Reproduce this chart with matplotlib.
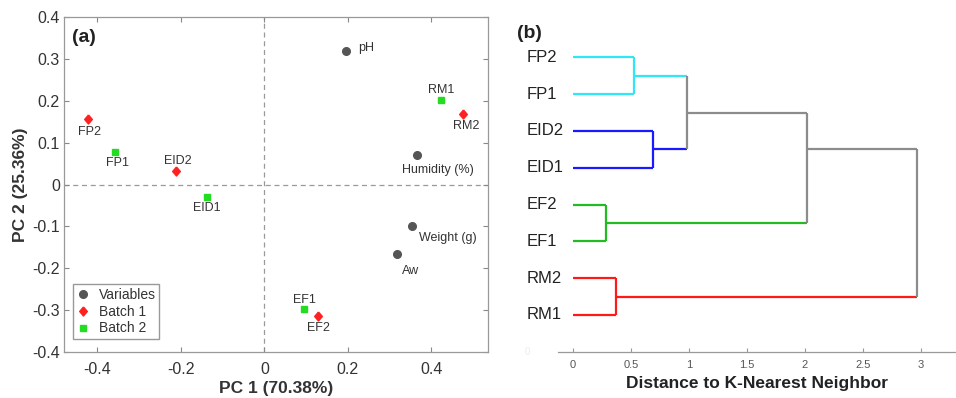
import matplotlib
matplotlib.use("Agg")
import matplotlib.pyplot as plt
import numpy as np

plt.rcParams['font.family'] = ['Liberation Sans', 'DejaVu Sans']

# ---------------- data: PCA biplot ----------------
var_names = ["pH", "Humidity (%)", "Weight (g)", "Aw"]
var_x = [0.195, 0.367, 0.355, 0.318]
var_y = [0.320, 0.070, -0.099, -0.166]

b1_names = ["FP2", "EID2", "RM2", "EF2"]
b1_x = [-0.423, -0.211, 0.477, 0.129]
b1_y = [0.156, 0.033, 0.169, -0.313]

b2_names = ["FP1", "EID1", "RM1", "EF1"]
b2_x = [-0.358, -0.137, 0.423, 0.095]
b2_y = [0.078, -0.029, 0.203, -0.298]

pca_xticks = [-0.4, -0.2, 0, 0.2, 0.4]
pca_yticks = [-0.4, -0.3, -0.2, -0.1, 0, 0.1, 0.2, 0.3, 0.4]

# ---------------- data: dendrogram ----------------
leaf_labels = ["RM1", "RM2", "EF1", "EF2", "EID1", "EID2", "FP1", "FP2"]  # bottom to top
# merges: (child_a, child_b, height); children are leaf names or merge indices
merges = [
    ("FP2", "FP1", 0.53),
    ("EID2", "EID1", 0.693),
    ("EF2", "EF1", 0.286),
    ("RM2", "RM1", 0.37),
    (0, 1, 0.98),
    (4, 2, 2.017),
    (5, 3, 2.963),
]
dend_xticks = [0, 0.5, 1, 1.5, 2, 2.5, 3]

# ---------------- style (label offsets in points) ----------------
offsets = {
    "pH": (9, 2, 'left'), "Humidity (%)": (15, -11, 'center'),
    "Weight (g)": (5, -9, 'left'), "Aw": (10, -12, 'center'),
    "FP2": (1, -9, 'center'), "EID2": (1, 7, 'center'), "RM2": (2, -9, 'center'),
    "EF2": (0, -9, 'center'), "FP1": (2, -8, 'center'), "EID1": (0, -8, 'center'),
    "RM1": (0, 7, 'center'), "EF1": (0, 7, 'center'),
}
merge_colors = ['#2ee8f8', '#1a1aff', '#22bb22', '#ff1a1a', '#8c8c8c', '#8c8c8c', '#8c8c8c']
diamond = [(0, 1), (0.85, 0), (0, -1), (-0.85, 0), (0, 1)]

fig = plt.figure(figsize=(9.56, 3.98), dpi=100)

# ---------------- panel (a) ----------------
ax = fig.add_axes([0.067, 0.1156, 0.443, 0.8416])
ax.axhline(0, color='#999999', ls=(0, (4, 3)), lw=0.9, zorder=1)
ax.axvline(0, color='#999999', ls=(0, (4, 3)), lw=0.9, zorder=1)
ax.plot(var_x, var_y, 'o', color='#555555', ms=5.5, ls='none', label='Variables', zorder=3)
ax.plot(b1_x, b1_y, marker=diamond, color='#ff2020', ms=6.5, ls='none', label='Batch 1', zorder=3)
ax.plot(b2_x, b2_y, 's', color='#22dd22', ms=3.8, ls='none', label='Batch 2', zorder=3)
for names, xs, ys in [(var_names, var_x, var_y), (b1_names, b1_x, b1_y), (b2_names, b2_x, b2_y)]:
    for n, x, y in zip(names, xs, ys):
        dx, dy, ha = offsets[n]
        ax.annotate(n, (x, y), xytext=(dx, dy), textcoords='offset points',
                    ha=ha, va='center', fontsize=9, color='#333333')
ax.set_xlim(-0.48, 0.535)
ax.set_ylim(-0.4, 0.4)
ax.set_xticks(pca_xticks)
ax.set_xticklabels(['-0.4', '-0.2', '0', '0.2', '0.4'])
ax.set_yticks(pca_yticks)
ax.set_yticklabels(['-0.4', '-0.3', '-0.2', '-0.1', '0', '0.1', '0.2', '0.3', '0.4'])
ax.tick_params(direction='in', top=True, right=True, length=3.5, color='#888888',
               labelsize=11.5, labelcolor='#333333')
ax.tick_params(axis='y', pad=3)
ax.tick_params(axis='x', pad=7)
for s in ax.spines.values():
    s.set_color('#999999')
    s.set_linewidth(0.9)
ax.set_xlabel('PC 1 (70.38%)', fontsize=12.5, fontweight='bold', color='#333333', labelpad=3)
ax.set_ylabel('PC 2 (25.36%)', fontsize=12.5, fontweight='bold', color='#333333', labelpad=3)
ax.text(0.019, 0.965, '(a)', transform=ax.transAxes, fontsize=14, fontweight='bold',
        va='top', ha='left', color='#222222')
leg = ax.legend(loc='lower left', bbox_to_anchor=(0.021, 0.039), borderaxespad=0,
                fancybox=False, edgecolor='#999999', fontsize=10, handlelength=1.0,
                handletextpad=0.6, borderpad=0.25, labelspacing=0.2, framealpha=1)
for t in leg.get_texts():
    t.set_color('#333333')

# ---------------- panel (b) ----------------
bx = fig.add_axes([0.584, 0.1163, 0.416, 0.8322])
pos = {n: i + 1 for i, n in enumerate(leaf_labels)}
node_leaves = []
node_pos = []
def child_info(c):
    if isinstance(c, str):
        return [pos[c]], 0.0, pos[c]
    return node_leaves[c], merges[c][2], node_pos[c]

for k, (a, b, h) in enumerate(merges):
    la, ha_, pa = child_info(a)
    lb, hb, pb = child_info(b)
    leaves = la + lb
    node_leaves.append(leaves)
    node_pos.append(float(np.mean(leaves)))
    col = merge_colors[k]
    ca = col if isinstance(a, str) else merge_colors[a]
    cb = col if isinstance(b, str) else merge_colors[b]
    bx.plot([ha_, h], [pa, pa], color=ca, lw=1.6, solid_capstyle='butt', zorder=2)
    bx.plot([hb, h], [pb, pb], color=cb, lw=1.6, solid_capstyle='butt', zorder=2)
    bx.plot([h, h], [pa, pb], color=col, lw=1.6, solid_capstyle='butt', zorder=3)

for n, p in pos.items():
    bx.text(-0.4, p, n, ha='left', va='center', fontsize=12, color='#222222',
            transform=bx.transData, clip_on=False)

bx.set_xlim(-0.125, 3.3)
bx.set_ylim(0, 9)
bx.set_xticks(dend_xticks)
bx.set_xticklabels(['0', '0.5', '1', '1.5', '2', '2.5', '3'])
bx.set_yticks([])
for s in ['top', 'right', 'left']:
    bx.spines[s].set_visible(False)
bx.spines['bottom'].set_color('#999999')
bx.spines['bottom'].set_linewidth(0.9)
bx.tick_params(axis='x', direction='in', length=3, color='#999999', labelsize=8,
               labelcolor='#555555', pad=6)
bx.set_xlabel('Distance to K-Nearest Neighbor', fontsize=12.5, fontweight='bold',
              color='#222222', labelpad=4)
bx.text(-0.39, 0, '0', ha='center', va='center', fontsize=7, color='#eeeedd', clip_on=False)
fig.text(517 / 956, 1 - 34 / 398, '(b)', fontsize=14, fontweight='bold', ha='left',
         va='center', color='#222222')

fig.savefig('out.png', dpi=100)
